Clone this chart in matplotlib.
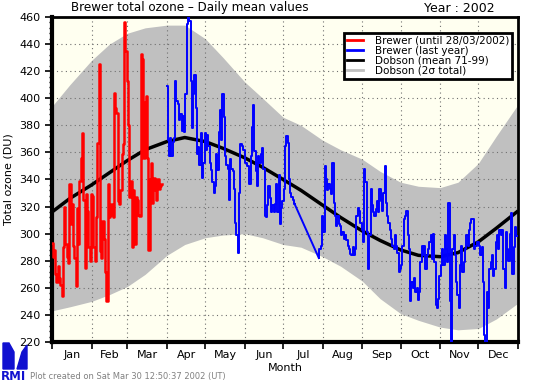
import matplotlib.pyplot as plt
from matplotlib.ticker import MultipleLocator, FixedLocator, NullFormatter
from matplotlib import font_manager

# day of year nodes for the Dobson climatology
clim_days = [1, 15, 32, 46, 60, 74, 91, 105, 121, 135, 152, 166, 182,
             196, 213, 227, 244, 258, 274, 288, 305, 319, 335, 349, 365]
dobson_mean = [316, 326, 336, 345, 354, 362, 368, 371, 368, 363, 356, 349, 340,
               332, 321, 312, 302, 295, 288, 284, 283, 286, 294, 304, 316]
dobson_upper = [394, 410, 428, 440, 448, 452, 454, 454, 444, 430, 412, 400, 386,
                380, 369, 362, 355, 346, 338, 335, 334, 338, 352, 372, 394]
dobson_lower = [243, 246, 250, 255, 261, 270, 284, 292, 297, 299, 300, 297, 292,
                290, 283, 276, 265, 252, 241, 236, 231, 229, 230, 237, 248]

# Brewer 2002, 1 Jan .. 28 Mar
red_start = 1
red_vals = [293, 283, 288, 270, 264, 276, 267, 262, 254, 290,
            320, 292, 283, 278, 337, 307, 322, 291, 282, 261,
            319, 292, 339, 356, 374, 325, 275, 329, 317, 290,
            280, 329, 328, 290, 280, 312, 367, 425, 287, 282,
            309, 296, 272, 250, 337, 312, 314, 322, 312, 404,
            393, 389, 324, 322, 332, 359, 366,
            456, 435, 413, 380, 327, 339, 290, 332, 292, 327,
            325, 314, 313, 433, 429, 356, 397, 402, 356, 288,
            340, 352, 323, 341, 332, 325, 340, 333, 335, 337]

# Brewer last year, two pieces with missing data in July
blue1_start = 91
blue1_vals = [409, 369, 357, 371, 357, 368, 371, 413, 398, 396,
              384, 388, 376, 387, 375, 403, 455, 462, 457, 413,
              378, 403, 417, 393, 359, 364, 351, 374, 341, 352,
              374, 362, 373, 365, 352, 347, 338, 330, 335, 359,
              347, 375, 391, 369, 403, 386, 357, 351, 348, 325,
              355, 348, 346, 333, 308, 299, 286, 330, 366, 365,
              362, 362, 352, 350, 350, 337, 357, 379, 395, 361,
              346, 335, 357, 352, 359, 363, 348, 313, 312, 321,
              335, 326, 316, 321, 316, 322, 337, 316, 343, 307,
              319, 324, 333, 365, 372, 367, 340, 330, 327, 325, 322]
blue2_start = 210
blue2_vals = [282, 289, 291, 313, 301, 350, 340, 332, 337, 333,
              329, 352, 323, 313, 306, 313, 307, 306, 299, 301,
              296, 299, 295, 291, 289, 285, 284, 290, 284, 289,
              313, 319, 317, 308, 303, 294, 348, 338, 301, 274,
              299, 333, 321, 316, 313, 318, 324, 316, 333, 324,
              317, 330, 350, 323, 313, 308, 303, 296, 291, 289,
              299, 291, 286,
              272, 274, 277, 291, 311, 313, 317, 299, 289, 250,
              264, 260, 267, 257, 260, 251, 257, 279, 291, 284,
              291, 274, 284, 289, 294, 299, 281, 300, 279, 247,
              245, 252, 269, 277, 289, 277, 299, 289, 279, 323,
              250, 212, 289, 299, 284, 264, 255, 245, 277, 291,
              272, 279, 289, 299, 291, 303, 308, 311, 311, 289,
              291, 294, 294, 291, 284, 290, 264, 225, 212, 257,
              245, 274, 279, 284, 269, 274, 294, 299, 289, 303,
              299, 303, 274, 260, 301, 289, 280, 300, 315, 270,
              290, 305, 298]

month_starts = [1, 32, 60, 91, 121, 152, 182, 213, 244, 274, 305, 335, 366]
month_names = ["Jan", "Feb", "Mar", "Apr", "May", "Jun",
               "Jul", "Aug", "Sep", "Oct", "Nov", "Dec"]

red_days = list(range(red_start, red_start + len(red_vals)))
blue1_days = list(range(blue1_start, blue1_start + len(blue1_vals)))
blue2_days = list(range(blue2_start, blue2_start + len(blue2_vals)))

# a condensed face is closer to the plotter font, if one is there
has_cond = any(f.name == "DejaVu Sans" and f.stretch == "condensed"
               for f in font_manager.fontManager.ttflist)
title_kw = {"fontsize": 9.5, "fontstretch": "condensed"} if has_cond else {"fontsize": 8.2}

plt.rcParams["font.family"] = "DejaVu Sans"

W, H = 540, 382
fig = plt.figure(figsize=(5.4, 3.82), dpi=100)
ax = fig.add_axes([52 / W, 1 - 342 / H, 466 / W, 325 / H])
ax.set_facecolor("#fffff0")

ax.fill_between(clim_days, dobson_lower, dobson_upper, color="#c0c0c0", lw=0, zorder=1)
ax.grid(True, color="#707070", linestyle=(0, (1, 3)), lw=0.8, zorder=2)

ax.plot(clim_days, dobson_mean, color="black", lw=2.5, zorder=3)
ax.plot(red_days, red_vals, color="red", lw=1.8, drawstyle="steps-mid", zorder=4)
ax.plot(blue1_days, blue1_vals, color="blue", lw=1.4, drawstyle="steps-mid", zorder=4)
ax.plot([blue1_days[-1], blue2_days[0]], [blue1_vals[-1], blue2_vals[0]],
        color="blue", lw=1.4, zorder=4)
ax.plot(blue2_days, blue2_vals, color="blue", lw=1.4, drawstyle="steps-mid", zorder=4)

ax.set_xlim(1, 366)
ax.set_ylim(220, 460)

ax.xaxis.set_major_locator(FixedLocator(month_starts))
ax.xaxis.set_major_formatter(NullFormatter())
mids = [(month_starts[i] + month_starts[i + 1]) / 2 for i in range(12)]
ax.xaxis.set_minor_locator(FixedLocator(mids))
ax.set_xticklabels(month_names, minor=True)
ax.tick_params(axis="x", which="major", direction="out", length=5, width=1.2)
ax.tick_params(axis="x", which="minor", length=0, labelsize=8, pad=6)

ax.yaxis.set_major_locator(MultipleLocator(20))
ax.yaxis.set_minor_locator(MultipleLocator(4))
ax.tick_params(axis="y", which="major", direction="out", length=5, width=1.2, labelsize=8)
ax.tick_params(axis="y", which="minor", direction="out", length=2.5, width=1)

for side in ["left", "bottom"]:
    ax.spines[side].set_linewidth(3)
for side in ["top", "right"]:
    ax.spines[side].set_linewidth(2)

ax.set_xlabel("Month", fontsize=8, labelpad=2)
ax.set_ylabel("Total ozone (DU)", fontsize=8)
ax.yaxis.set_label_coords(-(52 - 14) / 466, 0.5)

fig.text(190 / W, 1 - 8 / H, "Brewer total ozone \u2013 Daily mean values",
         ha="center", va="center", **title_kw)
fig.text(459 / W, 1 - 8 / H, "Year : 2002", ha="center", va="center", fontsize=9)

labels = ["Brewer (until 28/03/2002)", "Brewer (last year)",
          "Dobson (mean 71-99)", "Dobson (2\u03c3 total)"]
colors = ["red", "blue", "black", "#c0c0c0"]
handles = [plt.Line2D([], [], color=c, lw=2) for c in colors]
leg = ax.legend(handles, labels, loc="upper right", bbox_to_anchor=(0.988, 0.952),
                fontsize=7.5, frameon=True, fancybox=False, handlelength=1.6,
                handletextpad=1.1, labelspacing=0.0, borderpad=0.3,
                borderaxespad=0)
leg.get_frame().set_edgecolor("black")
leg.get_frame().set_linewidth(2)
leg.get_frame().set_facecolor("white")
leg.get_frame().set_alpha(1)
leg.set_zorder(10)

# RMI logo and footer
def fpt(x, y):
    return (x / W, 1 - y / H)

fig.patches.append(plt.Polygon([fpt(3, 343), fpt(9, 343), fpt(14, 352), fpt(14, 369), fpt(3, 369)],
                               closed=True, color="#1010d0", transform=fig.transFigure))
fig.patches.append(plt.Polygon([fpt(17, 369), fpt(22, 352), fpt(27, 345), fpt(27, 369)],
                               closed=True, color="#1010d0", transform=fig.transFigure))
fig.text(0.5 / W, 1 - 376 / H, "RMI", color="#1010d0", fontsize=8.5, fontweight="bold",
         ha="left", va="center")
fig.text(30 / W, 1 - 377 / H, "Plot created on Sat Mar 30 12:50:37 2002 (UT)",
         color="#808080", fontsize=6, ha="left", va="center")

fig.savefig("out.png", dpi=100)
